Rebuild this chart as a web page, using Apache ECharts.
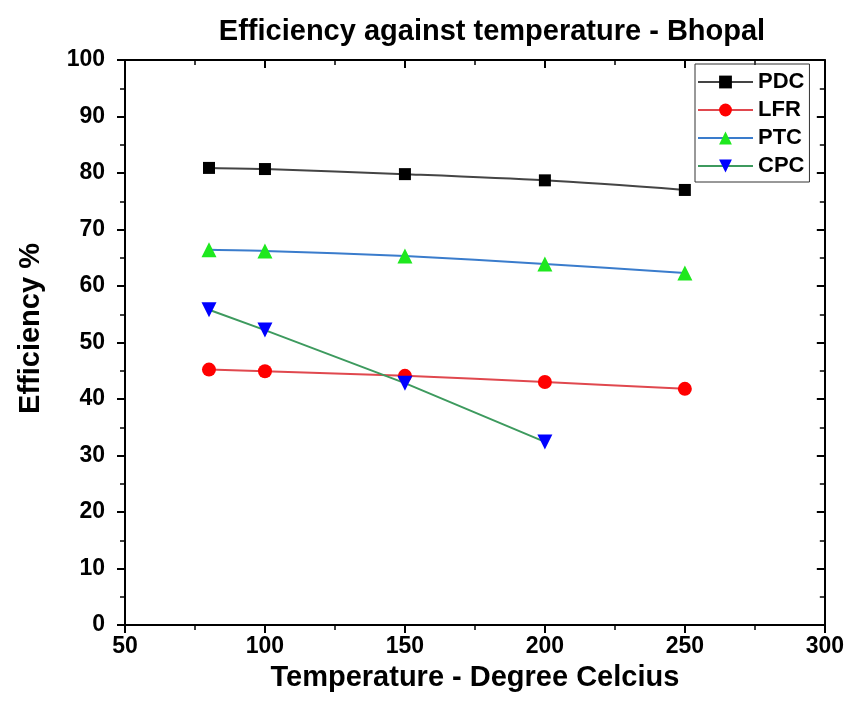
<!DOCTYPE html>
<html>
<head>
<meta charset="utf-8">
<script src="https://cdn.jsdelivr.net/npm/echarts@6/dist/echarts.min.js"></script>
<style>
  html, body { margin: 0; padding: 0; background: #fff; }
  #chart { width: 847px; height: 719px; }
</style>
</head>
<body>
<div id="chart"></div>
<script>
const temps = [80, 100, 150, 200, 250];
const pdc = [80.9, 80.7, 79.8, 78.7, 77.0];
const lfr = [45.2, 44.9, 44.1, 43.0, 41.8];
const ptc = [66.4, 66.2, 65.3, 63.9, 62.3];
const cpc = [55.8, 52.2, 42.8, 32.4];

const font = "Liberation Sans, Arial, sans-serif";
const pairs = (ys) => ys.map((y, i) => [temps[i], y]);

const chart = echarts.init(document.getElementById("chart"));

// axis look shared by the four frame sides
const frame = (inside, labels, margin) => ({
  axisLine: { show: true, onZero: false, lineStyle: { color: "#000", width: 2 } },
  axisTick: { show: true, inside: inside, length: 8, lineStyle: { color: "#000", width: 2 } },
  minorTick: { show: true, splitNumber: 2, length: 5, lineStyle: { color: "#000", width: 1.5 } },
  splitLine: { show: false },
  axisLabel: {
    show: labels,
    color: "#000",
    fontFamily: font,
    fontWeight: "bold",
    fontSize: 23,
    margin: margin,
  },
});

chart.setOption({
  backgroundColor: "#fff",
  animation: false,
  title: {
    text: "Efficiency against temperature - Bhopal",
    left: 487,
    textAlign: "center",
    top: 12,
    textStyle: { fontFamily: font, fontWeight: "bold", fontSize: 29, color: "#000" },
  },
  grid: { left: 125, right: 21, top: 60, bottom: 94 },
  legend: {
    orient: "vertical",
    left: 695,
    top: 64,
    itemWidth: 55,
    itemHeight: 16,
    itemGap: 6,
    padding: [7, 5, 5, 2],
    borderColor: "#333",
    borderWidth: 1,
    textStyle: { fontFamily: font, fontWeight: "bold", fontSize: 22, color: "#000" },
  },
  xAxis: [
    Object.assign(frame(false, true, 10), {
      type: "value",
      position: "bottom",
      min: 50,
      max: 300,
      interval: 50,
      name: "Temperature - Degree Celcius",
      nameLocation: "middle",
      nameGap: 38,
      nameTextStyle: { fontFamily: font, fontWeight: "bold", fontSize: 29, color: "#000", verticalAlign: "top" },
    }),
    Object.assign(frame(true, false, 8), {
      type: "value",
      position: "top",
      min: 50,
      max: 300,
      interval: 50,
    }),
  ],
  yAxis: [
    Object.assign(frame(false, true, 20), {
      type: "value",
      position: "left",
      min: 0,
      max: 100,
      interval: 10,
      name: "Efficiency %",
      nameLocation: "middle",
      nameGap: 80,
      nameTextStyle: {
        fontFamily: font,
        fontWeight: "bold",
        fontSize: 29,
        color: "#000",
        padding: [0, 0, 0, 28],
      },
    }),
    Object.assign(frame(true, false, 8), {
      type: "value",
      position: "right",
      min: 0,
      max: 100,
      interval: 10,
    }),
  ],
  series: [
    {
      name: "PDC",
      type: "line",
      data: pairs(pdc),
      smooth: 0.3,
      symbol: "rect",
      symbolSize: 12,
      itemStyle: { color: "#000" },
      lineStyle: { color: "#444", width: 2 },
    },
    {
      name: "LFR",
      type: "line",
      data: pairs(lfr),
      smooth: 0.3,
      symbol: "circle",
      symbolSize: 14,
      itemStyle: { color: "#ff0000" },
      lineStyle: { color: "#e0484e", width: 2 },
    },
    {
      name: "PTC",
      type: "line",
      data: pairs(ptc),
      smooth: 0.3,
      symbol: "triangle",
      symbolSize: 15,
      itemStyle: { color: "#1ee81e" },
      lineStyle: { color: "#3a7ccc", width: 2 },
    },
    {
      name: "CPC",
      type: "line",
      data: pairs(cpc),
      symbol: "triangle",
      symbolRotate: 180,
      symbolSize: 15,
      itemStyle: { color: "#0000ff" },
      lineStyle: { color: "#3d9a5e", width: 2 },
    },
  ],
});
</script>
</body>
</html>
